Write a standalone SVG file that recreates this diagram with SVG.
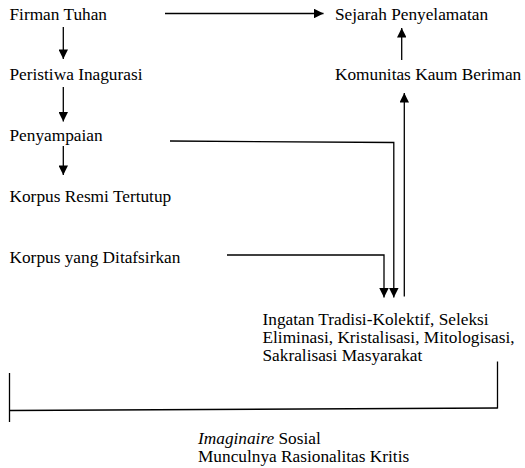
<svg xmlns="http://www.w3.org/2000/svg" width="525" height="468" viewBox="0 0 525 468">
<style>
  text { font-family: "Liberation Serif", "Times New Roman", Times, serif; font-size: 17.3px; fill: #000; }
  .c { fill: none; stroke: #000; stroke-width: 1.3; }
  .a { marker-end: url(#arr); }
</style>
<defs>
  <marker id="arr" viewBox="0 0 10 10" refX="10" refY="5" markerWidth="10" markerHeight="9.5" markerUnits="userSpaceOnUse" orient="auto">
    <path d="M0,0 L10,5 L0,10 z" fill="#000"/>
  </marker>
</defs>
<rect width="525" height="468" fill="#fff"/>
<g id="firman-tuhan"><text x="9.5" y="19.5">Firman Tuhan</text></g>
<g id="peristiwa-inagurasi"><text x="9.5" y="80">Peristiwa Inagurasi</text></g>
<g id="penyampaian"><text x="9.5" y="141">Penyampaian</text></g>
<g id="korpus-resmi"><text x="9.5" y="201.5">Korpus Resmi Tertutup</text></g>
<g id="korpus-ditafsirkan"><text x="9.5" y="262.5">Korpus yang Ditafsirkan</text></g>
<g id="sejarah"><text x="335" y="19.5">Sejarah Penyelamatan</text></g>
<g id="komunitas"><text x="335" y="80">Komunitas Kaum Beriman</text></g>
<g id="ingatan">
  <text x="262.5" y="325">Ingatan Tradisi-Kolektif, Seleksi</text>
  <text x="262.5" y="343">Eliminasi, Kristalisasi, Mitologisasi,</text>
  <text x="262.5" y="361">Sakralisasi Masyarakat</text>
</g>
<g id="imaginaire">
  <text x="198" y="444"><tspan font-style="italic">Imaginaire</tspan> Sosial</text>
  <text x="198" y="462">Munculnya Rasionalitas Kritis</text>
</g>
<g id="connectors">
  <path class="c a" d="M165,13.5 L323.5,13.5"/>
  <path class="c a" d="M63.3,27 L63.3,59"/>
  <path class="c a" d="M63.3,87 L63.3,121.5"/>
  <path class="c a" d="M63.3,146 L63.3,175"/>
  <path class="c a" d="M401.7,60 L401.7,28"/>
  <path class="c a" d="M404.3,296.5 L404.3,93"/>
  <path class="c a" d="M170,141 L393.8,142.5 L393.8,297.5"/>
  <path class="c a" d="M227,255 L384,255 L384,297.5"/>
  <path class="c" d="M9.5,373 L9.5,422"/>
  <path class="c" d="M9.5,410.5 L497.5,408"/>
  <path class="c" d="M497.5,361.5 L497.5,408.5"/>
</g>
</svg>
